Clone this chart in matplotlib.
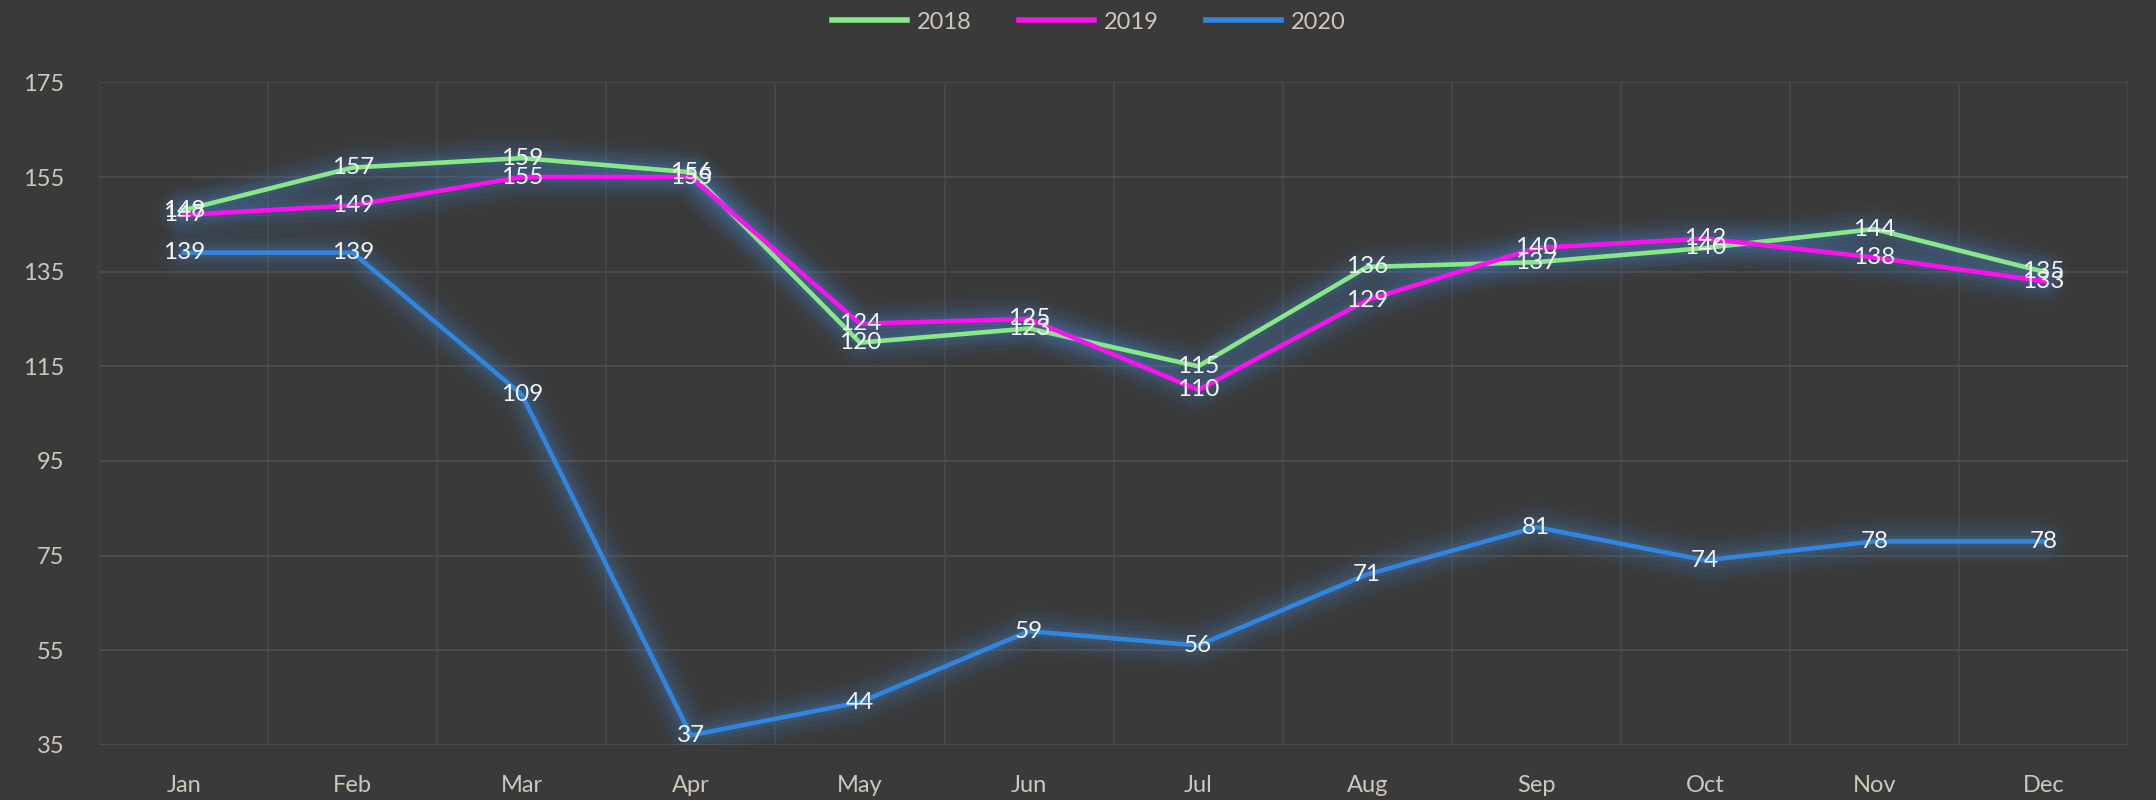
import numpy as np
import matplotlib
matplotlib.use('Agg')
import matplotlib.pyplot as plt

months = ['Jan', 'Feb', 'Mar', 'Apr', 'May', 'Jun',
          'Jul', 'Aug', 'Sep', 'Oct', 'Nov', 'Dec']
sales_2018 = [148, 157, 159, 156, 120, 123, 115, 136, 137, 140, 144, 135]
sales_2019 = [147, 149, 155, 155, 124, 125, 110, 129, 140, 142, 138, 133]
sales_2020 = [139, 139, 109, 37, 44, 59, 56, 71, 81, 74, 78, 78]
y_ticks = [35, 55, 75, 95, 115, 135, 155, 175]

series = [
    ('2018', sales_2018, '#86e986'),
    ('2019', sales_2019, '#ff10f0'),
    ('2020', sales_2020, '#2f86e0'),
]

plt.rcParams['font.family'] = ['Lato', 'DejaVu Sans']
bg = '#3a3a3a'
tick_col = '#cfc7bb'

fig = plt.figure(figsize=(21.56, 8), dpi=100, facecolor=bg)
ax = fig.add_axes([0.046, 0.069, 0.941, 0.828])
ax.set_facecolor(bg)

x = np.arange(len(months))

# soft blue glow under every line
for name, vals, col in series:
    for lw, a in [(36, 0.05), (28, 0.06), (21, 0.08), (14, 0.1), (8, 0.12)]:
        ax.plot(x, vals, color='#4a80c0', lw=lw, alpha=a,
                solid_joinstyle='round', solid_capstyle='round', zorder=2)

lines = []
for name, vals, col in series:
    ln, = ax.plot(x, vals, color=col, lw=3.3, label=name, zorder=3,
                  solid_joinstyle='round')
    lines.append(ln)

# data labels centred on the points
for name, vals, col in series:
    for xi, v in zip(x, vals):
        ax.text(xi, v, str(v), ha='center', va='center', fontsize=17.5,
                color='#f4f4f4', zorder=5)

ax.set_xlim(-0.5, len(months) - 0.5)
ax.set_ylim(35, 175)
ax.set_yticks(y_ticks)
ax.set_xticks(x)
ax.set_xticklabels(months)
ax.set_xticks(np.arange(-0.5, len(months)), minor=True)

ax.grid(axis='y', color='#4d4d4d', lw=1.3)
ax.grid(axis='x', which='minor', color='#474747', lw=1.3)
ax.set_axisbelow(True)
for s in ax.spines.values():
    s.set_visible(False)
ax.tick_params(which='both', length=0)
ax.tick_params(axis='y', labelsize=17, labelcolor=tick_col, pad=25)
ax.tick_params(axis='x', labelsize=17, labelcolor=tick_col, pad=22)

leg = fig.legend(handles=lines, loc='upper center', ncol=3,
                 bbox_to_anchor=(0.505, 1.012), frameon=False,
                 fontsize=17, handlelength=3.2, columnspacing=2.0,
                 handletextpad=0.4)
for t in leg.get_texts():
    t.set_color(tick_col)
for h in leg.get_lines():
    h.set_linewidth(4)

fig.savefig('out.png', dpi=100, facecolor=bg)
